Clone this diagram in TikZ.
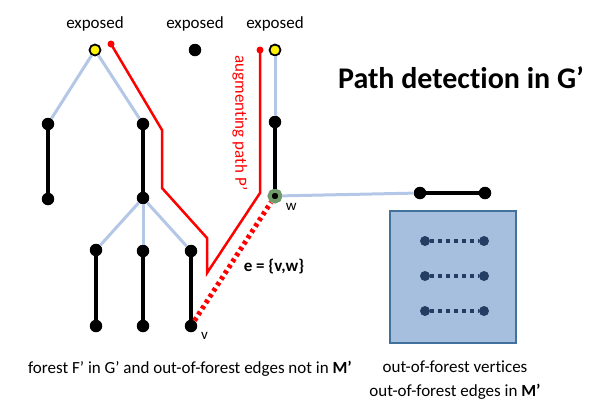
\documentclass[tikz,border=0pt]{standalone}
\usepackage{fontspec}
\setmainfont{Carlito}[Ligatures=NoCommon]
\usepackage{tikz}
\usetikzlibrary{positioning}
\definecolor{treeblue}{HTML}{B4C7E7}
\definecolor{boxfill}{HTML}{A7BFDE}
\definecolor{boxline}{HTML}{41719C}
\definecolor{navy}{HTML}{243D62}
\definecolor{wgreen}{HTML}{6F9A6B}

\begin{document}
\begin{tikzpicture}[x=1pt,y=-1pt,
    vertex/.style={circle,fill=black,inner sep=0pt,minimum size=12.5pt},
    exposedv/.style={circle,fill=yellow,draw=black,line width=1.8pt,inner sep=0pt,minimum size=11pt},
    wvertex/.style={circle,fill=black,draw=wgreen,line width=4pt,inner sep=0pt,minimum size=11pt},
    pathend/.style={circle,fill=red,inner sep=0pt,minimum size=7pt},
    outv/.style={circle,fill=navy,inner sep=0pt,minimum size=10pt},
    treeedge/.style={treeblue,line width=3pt},
    matched/.style={black,line width=4pt},
    outmatched/.style={navy,line width=4pt,dash pattern=on 4pt off 4pt},
    augpath/.style={red,line width=2.5pt},
    tag/.style={font=\fontsize{17}{24}\selectfont},
    small/.style={font=\fontsize{15}{18}\selectfont}
    ]
    \useasboundingbox (0,0) rectangle (600,416);

    % forest F'
    \node[exposedv] (r1) at (95,50) {};
    \node[vertex] (a1) at (48,124) {};
    \node[vertex] (a2) at (48,199) {};
    \node[vertex] (b1) at (143,124) {};
    \node[vertex] (b2) at (143,198) {};
    \node[vertex] (c1) at (96,250) {};
    \node[vertex] (c2) at (96,326) {};
    \node[vertex] (d1) at (143,251) {};
    \node[vertex] (d2) at (143,326) {};
    \node[vertex] (e1) at (191,251) {};
    \node[vertex] (v) at (191,326) {};
    \node[vertex] (lone) at (195,50) {};
    \node[exposedv] (r3) at (275,50) {};
    \node[vertex] (f1) at (275,122) {};
    \node[wvertex] (w) at (275,196) {};

    \node[tag,above=9pt of r1] (ex1) {exposed};
    \node[tag,above=9pt of lone] (ex2) {exposed};
    \node[tag,above=9pt of r3] (ex3) {exposed};

    \draw[treeedge] (r1) -- (a1);
    \draw[treeedge] (r1) -- (b1);
    \draw[treeedge] (b2) -- (c1);
    \draw[treeedge] (b2) -- (d1);
    \draw[treeedge] (b2) -- (e1);
    \draw[treeedge] (r3) -- (f1);

    \draw[matched] (a1) -- (a2);
    \draw[matched] (b1) -- (b2);
    \draw[matched] (c1) -- (c2);
    \draw[matched] (d1) -- (d2);
    \draw[matched] (e1) -- (v);
    \draw[matched] (f1) -- (w);

    % out-of-forest part
    \node[vertex] (g1) at (420,193) {};
    \node[vertex] (g2) at (485,193) {};
    \draw[treeedge] (w) -- (g1);
    \draw[matched] (g1) -- (g2);

    \node[rectangle,fill=boxfill,draw=boxline,line width=1.5pt,minimum width=126pt,minimum height=132pt] (box) at (453,277) {};
    \foreach \y/\n in {241/1,276/2,311/3} {
      \node[outv] (h\n) at (425,\y) {};
      \node[outv] (k\n) at (484,\y) {};
      \draw[outmatched] (h\n) -- (k\n);
    }

    % augmenting path
    \node[pathend] (p1) at (111,44) {};
    \node[pathend] (p2) at (260,50) {};
    \draw[augpath] (p1.center) -- (162,130) -- (162,188) -- (207,238) -- (207,273) -- (260,193) -- (p2.center);
    \node[tag,red,rotate=-90] (aug) at (240,123) {augmenting path P’};

    \draw[red,line width=5pt,dash pattern=on 3.5pt off 3.5pt] (v) -- (w);
    \node[font=\bfseries\fontsize{17}{20}\selectfont] (e) at (274,267) {e = \{v,w\}};
    \node[small,below right=-2pt and 2pt of w] (wl) {w};
    \node[small,below right=-2pt and 2pt of v] (vl) {v};

    \node[font=\bfseries\fontsize{30}{36}\selectfont] (title) at (461,78) {Path detection in G’};

    \node[tag] (cap1) at (190,369) {forest F’ in G’ and out-of-forest edges not in \textbf{M’}};
    \node[tag,align=center] (cap2) at (455,380) {out-of-forest vertices\\out-of-forest edges in \textbf{M’}};
\end{tikzpicture}
\end{document}
